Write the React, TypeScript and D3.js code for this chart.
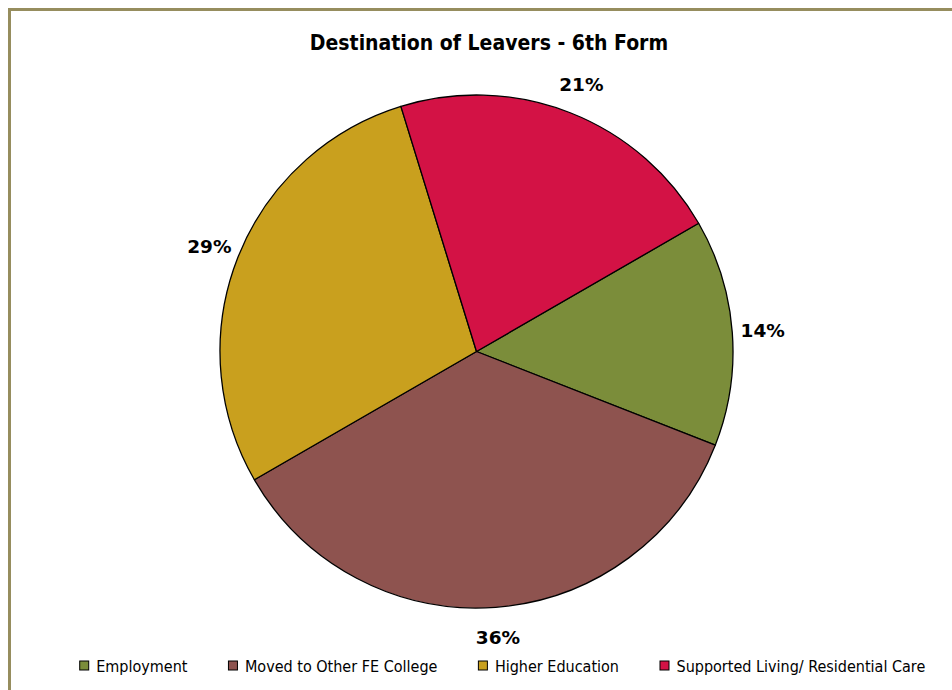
import React, { useEffect, useRef } from 'react';
import * as d3 from 'd3';

const categories = ['Employment', 'Moved to Other FE College', 'Higher Education', 'Supported Living/ Residential Care'];
const counts = [10, 25, 20, 15];
const colors = ['#7b8d3a', '#8e534f', '#c9a01e', '#d31245'];
const title = 'Destination of Leavers - 6th Form';

const W = 952;
const H = 690;
const cx = 476.5;
const cy = 351.5;
const radius = 256.5;
const labelRadius = 287;
const startDeg = 60;

export default function App() {
  const ref = useRef<SVGSVGElement | null>(null);

  useEffect(() => {
    const svg = d3.select(ref.current);
    svg.selectAll('*').remove();

    svg.append('rect').attr('width', W).attr('height', H).attr('fill', '#fff');

    // frame, runs off the right and bottom edges like the source
    svg.append('rect')
      .attr('x', 9.5).attr('y', 9.5)
      .attr('width', W + 20).attr('height', H + 20)
      .attr('fill', 'none').attr('stroke', '#968d5e').attr('stroke-width', 3);

    svg.append('text')
      .attr('x', 489).attr('y', 50)
      .attr('text-anchor', 'middle')
      .style('font-family', "'DejaVu Sans Condensed', 'DejaVu Sans', sans-serif")
      .style('font-stretch', 'condensed')
      .style('font-weight', 'bold')
      .style('font-size', '21px')
      .text(title);

    const start = (startDeg * Math.PI) / 180;
    const pie = d3.pie<number>().sort(null).value((d) => d)
      .startAngle(start).endAngle(start + 2 * Math.PI);
    const arcs = pie(counts);
    const total = d3.sum(counts);

    const arc = d3.arc<d3.PieArcDatum<number>>().innerRadius(0).outerRadius(radius);
    const labelArc = d3.arc<d3.PieArcDatum<number>>().innerRadius(labelRadius).outerRadius(labelRadius);

    const g = svg.append('g').attr('transform', `translate(${cx},${cy})`);
    g.selectAll('path').data(arcs).join('path')
      .attr('d', arc)
      .attr('fill', (_, i) => colors[i])
      .attr('stroke', '#000').attr('stroke-width', 1.3).attr('stroke-linejoin', 'round');

    g.selectAll('text.lbl').data(arcs).join('text')
      .attr('class', 'lbl')
      .attr('transform', (d) => `translate(${labelArc.centroid(d)})`)
      .attr('text-anchor', 'middle')
      .attr('dy', '0.36em')
      .style('font-family', "'DejaVu Sans', sans-serif")
      .style('font-weight', 'bold')
      .style('font-size', '18.5px')
      .text((d) => `${Math.round((d.value / total) * 100)}%`);

    // legend, laid out from measured text widths
    const legend = svg.append('g');
    const items = legend.selectAll('g').data(categories).join('g');
    items.append('rect')
      .attr('y', 661).attr('width', 9).attr('height', 9)
      .attr('fill', (_, i) => colors[i]).attr('stroke', '#000').attr('stroke-width', 1);
    const texts = items.append('text')
      .attr('x', 16.5).attr('y', 672)
      .style('font-family', "'DejaVu Sans Condensed', 'DejaVu Sans', sans-serif")
      .style('font-stretch', 'condensed')
      .style('font-size', '16px')
      .text((d) => d);
    let x = 0;
    const xs: number[] = [];
    texts.each(function () {
      xs.push(x);
      x += 16.5 + (this as SVGTextElement).getComputedTextLength() + 41;
    });
    const span = x - 41;
    const left = 502.5 - span / 2;
    items.attr('transform', (_, i) => `translate(${left + xs[i]},0)`);
  }, []);

  return (
    <svg ref={ref} width={W} height={H}
      style={{ position: 'absolute', left: 0, top: 0, display: 'block' }} />
  );
}
